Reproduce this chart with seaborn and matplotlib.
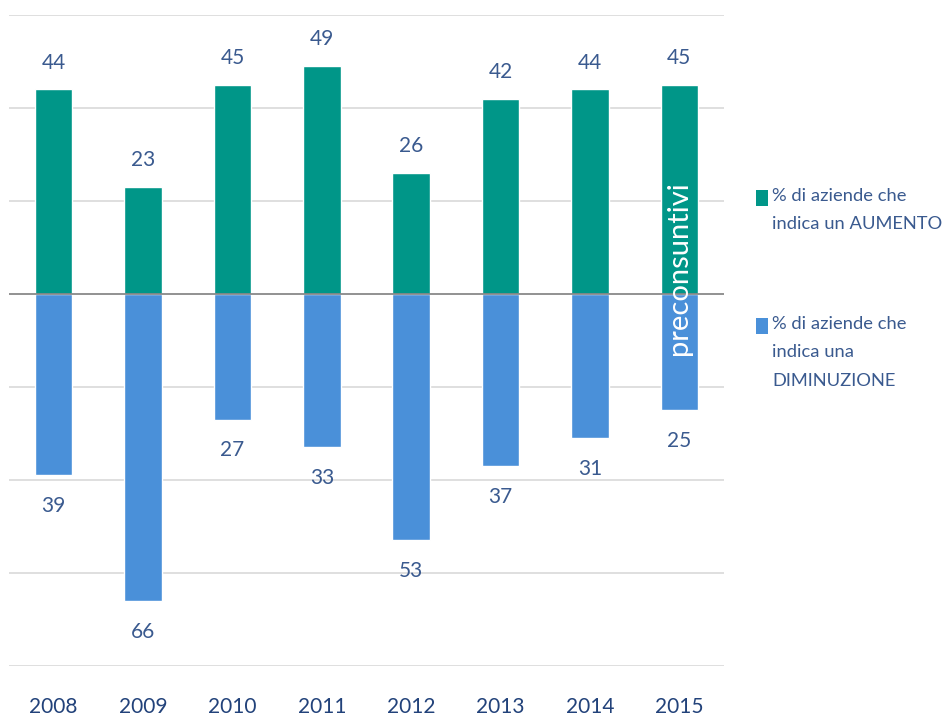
import matplotlib
matplotlib.use("Agg")
import matplotlib.pyplot as plt
import seaborn as sns
import pandas as pd
from matplotlib.patches import Rectangle

years = ["2008", "2009", "2010", "2011", "2012", "2013", "2014", "2015"]
aumento = [44, 23, 45, 49, 26, 42, 44, 45]
diminuzione = [39, 66, 27, 33, 53, 37, 31, 25]
label_up = "% di aziende che\nindica un AUMENTO"
label_down = "% di aziende che\nindica una\nDIMINUZIONE"

TEAL = "#009688"
BLUE = "#4A90D9"
VAL_COL = "#3A5A8F"
YEAR_COL = "#22427A"

sns.set_theme(style="white")
plt.rcParams['font.family'] = ['Lato', 'DejaVu Sans']

df = pd.DataFrame({
    "year": years * 2,
    "value": aumento + [-v for v in diminuzione],
    "serie": [label_up] * len(years) + [label_down] * len(years),
})

fig = plt.figure(figsize=(9.45, 7.15), dpi=100)
ax = fig.add_axes([9 / 945, 49 / 715, 715 / 945, 651 / 715])

sns.barplot(data=df, x="year", y="value", hue="serie", dodge=False,
            palette={label_up: TEAL, label_down: BLUE}, width=0.42,
            saturation=1, ax=ax, legend=False, zorder=3)

ax.set_ylim(-80, 60)
ax.set_xlim(-0.5, 7.5)
for y in range(-80, 61, 20):
    if y == 0:
        continue
    ax.axhline(y, color="#d9d9d9", lw=1.2, zorder=1)
ax.axhline(0, color="#7f7f7f", lw=1.2, zorder=4)

for s in ax.spines.values():
    s.set_visible(False)
ax.set_yticks([])
ax.set_xlabel("")
ax.set_ylabel("")
ax.tick_params(axis="x", length=0, pad=22, labelsize=15, labelcolor=YEAR_COL)

for i, (u, d) in enumerate(zip(aumento, diminuzione)):
    ax.annotate(str(u), (i, u), xytext=(0, 12), textcoords="offset points",
                ha="center", va="bottom", fontsize=15, color=VAL_COL)
    ax.annotate(str(d), (i, -d), xytext=(0, -15), textcoords="offset points",
                ha="center", va="top", fontsize=15, color=VAL_COL)

ax.text(7, 5.5, "preconsuntivi", rotation=90, ha="center", va="center",
        color="white", fontsize=21, zorder=5)

# legend
for (ytop, col, lab) in [(190, TEAL, label_up), (318, BLUE, label_down)]:
    fig.patches.append(Rectangle((756 / 945, 1 - (ytop + 16) / 715), 12 / 945, 16 / 715,
                                 transform=fig.transFigure, facecolor=col, edgecolor="none"))
    fig.text(772 / 945, 1 - (ytop - 2) / 715, lab, ha="left", va="top",
             fontsize=13.2, color=VAL_COL, linespacing=1.95)

fig.savefig("out.png", dpi=100)
